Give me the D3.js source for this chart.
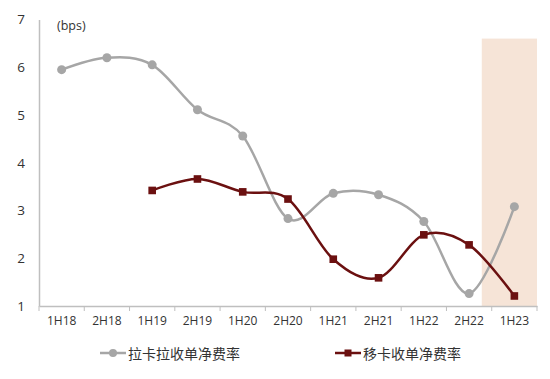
<!DOCTYPE html>
<html><head><meta charset="utf-8">
<script src="https://cdn.jsdelivr.net/npm/d3@7/dist/d3.min.js"></script>
<style>body{margin:0;background:#fff}svg{display:block}</style>
</head><body><svg id="c" width="550" height="379"></svg>
<script>
const categories = ["1H18","2H18","1H19","2H19","1H20","2H20","1H21","2H21","1H22","2H22","1H23"];
const lakalaValues = [5.95,6.2,6.05,5.11,4.56,2.83,3.36,3.33,2.77,1.26,3.08];
const yikaValues = [null,null,3.42,3.66,3.39,3.24,1.98,1.59,2.49,2.28,1.21];
const yTicks = [1,2,3,4,5,6,7];
const seriesNames = ["拉卡拉收单净费率","移卡收单净费率"];
const bandRange = [9.28, 10.5]; // highlighted region in category-index units
const bandTop = 6.6;

const svg = d3.select("#c");
const m = {l:39, r:537, t:19.5, b:306};
const y = d3.scaleLinear().domain([1,7]).range([m.b, m.t]);
const xb = d3.scaleBand().domain(categories).range([m.l, m.r]);
const xi = d3.scaleLinear().domain([-0.5, categories.length-0.5]).range([m.l, m.r]);
const cx = c => xb(c) + xb.bandwidth()/2;
const font = "'Open Sans', 'Noto Sans CJK SC', sans-serif";

// band
svg.append("rect").attr("x", xi(bandRange[0])).attr("y", y(bandTop))
  .attr("width", xi(bandRange[1]) - xi(bandRange[0])).attr("height", y(1) - y(bandTop))
  .attr("fill", "#f6e4d7");

// y axis
const ya = svg.append("g").attr("transform", `translate(${m.l},0)`)
  .call(d3.axisLeft(y).tickValues(yTicks).tickSize(0).tickPadding(14).tickFormat(d3.format("d")));
ya.select(".domain").attr("stroke", "#bfbfbf").attr("stroke-width", 1.5);
ya.selectAll("text").attr("font-family", font).attr("font-size", 13.5).attr("fill", "#333");

// x axis
const xa = svg.append("g").attr("transform", `translate(0,${m.b})`)
  .call(d3.axisBottom(xb).tickSize(0).tickPadding(10));
xa.select(".domain").attr("stroke", "#bfbfbf").attr("stroke-width", 1.5);
xa.selectAll("text").attr("font-family", font).attr("font-size", 12).attr("fill", "#333");
xa.selectAll(".sep").data(d3.range(categories.length + 1)).enter().append("line")
  .attr("x1", i => xi(i - 0.5)).attr("x2", i => xi(i - 0.5))
  .attr("y1", 0).attr("y2", 5).attr("stroke", "#bfbfbf").attr("stroke-width", 1);

svg.append("text").attr("x", 57).attr("y", 30).text("(bps)")
  .attr("font-family", font).attr("font-size", 12.5).attr("fill", "#333");

const curve = d3.curveCardinal.tension(0);
function series(vals, color, shape){
  const pts = categories.map((c,i)=>({c, v: vals[i]})).filter(d => d.v != null);
  svg.append("path").datum(pts)
    .attr("d", d3.line().x(d => cx(d.c)).y(d => y(d.v)).curve(curve))
    .attr("fill", "none").attr("stroke", color).attr("stroke-width", 2.5);
  if (shape === "circle") {
    svg.selectAll(null).data(pts).enter().append("circle")
      .attr("cx", d => cx(d.c)).attr("cy", d => y(d.v)).attr("r", 4.5).attr("fill", color);
  } else {
    svg.selectAll(null).data(pts).enter().append("rect")
      .attr("x", d => cx(d.c) - 3.8).attr("y", d => y(d.v) - 3.8)
      .attr("width", 7.6).attr("height", 7.6).attr("fill", color);
  }
}
const colors = ["#a6a6a6", "#6b1010"];
series(lakalaValues, colors[0], "circle");
series(yikaValues, colors[1], "square");

// legend
const lg = [{x:100, shape:"circle"}, {x:335, shape:"square"}];
lg.forEach((L, i) => {
  const g = svg.append("g").attr("transform", `translate(${L.x},353)`);
  g.append("line").attr("x1", 0).attr("x2", 26).attr("stroke", colors[i]).attr("stroke-width", 2.5);
  if (L.shape === "circle") g.append("circle").attr("cx", 13).attr("r", 4).attr("fill", colors[i]);
  else g.append("rect").attr("x", 9.5).attr("y", -3.5).attr("width", 7).attr("height", 7).attr("fill", colors[i]);
  g.append("text").attr("x", 28).attr("y", 5.5).text(seriesNames[i])
    .attr("font-family", "'Noto Sans CJK SC', sans-serif").attr("font-size", 14).attr("fill", "#333");
});
</script></body></html>
